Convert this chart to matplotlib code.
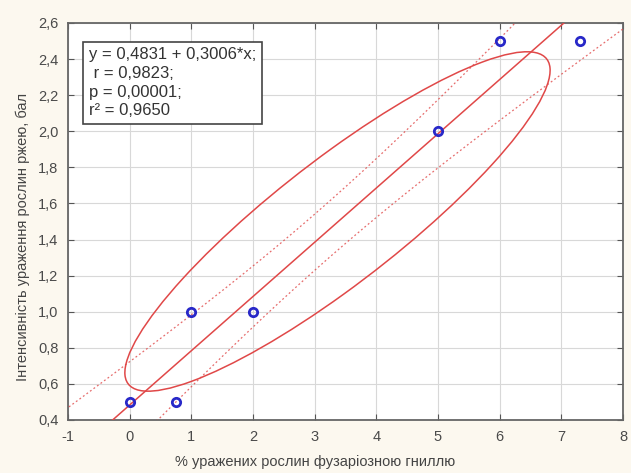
import numpy as np
import matplotlib
matplotlib.use("Agg")
import matplotlib.pyplot as plt
from matplotlib.patches import Ellipse

plt.rcParams['font.family'] = ['Liberation Sans', 'DejaVu Sans']

# дані
x_vals = [0.0, 0.75, 1.0, 2.0, 5.0, 6.0, 7.3]
y_vals = [0.5, 0.5, 1.0, 1.0, 2.0, 2.5, 2.5]

intercept = 0.4831
slope = 0.3006
r_value = 0.9823
t_crit = 2.26  # коеф. смуги довіри (підібрано під рисунок)

# еліпс
ell_center = (3.37, 1.50)
ell_semi_major = 3.55
ell_semi_minor = 0.415
ell_angle = 13.85

x_ticks = [-1, 0, 1, 2, 3, 4, 5, 6, 7, 8]
y_ticks = [0.4, 0.6, 0.8, 1.0, 1.2, 1.4, 1.6, 1.8, 2.0, 2.2, 2.4, 2.6]

stats_text = "y = 0,4831 + 0,3006*x;\n r = 0,9823;\np = 0,00001;\nr\u00b2 = 0,9650"
xlabel = "% уражених рослин фузаріозною гниллю"
ylabel = "Інтенсивність ураження рослин ржею, бал"

fig = plt.figure(figsize=(6.31, 4.73), dpi=100, facecolor='#fcf8ef')
ax = fig.add_axes([0.1078, 0.1121, 0.8795, 0.8393])
ax.set_facecolor('white')

xa = np.array(x_vals)
ya = np.array(y_vals)
n = len(xa)
mx = xa.mean()
sxx = ((xa - mx) ** 2).sum()
syy = ((ya - ya.mean()) ** 2).sum()
s = np.sqrt(syy * (1 - r_value ** 2) / (n - 2))

xx = np.linspace(-1.5, 8.5, 300)
yy = intercept + slope * xx
half = t_crit * s * np.sqrt(1.0 / n + (xx - mx) ** 2 / sxx)

red = '#e04848'
ax.plot(xx, yy, color=red, lw=1.1, zorder=3)
ax.plot(xx, yy + half, color=red, lw=0.9, ls=(0, (1.5, 2)), alpha=0.8, zorder=3)
ax.plot(xx, yy - half, color=red, lw=0.9, ls=(0, (1.5, 2)), alpha=0.8, zorder=3)

ell = Ellipse(ell_center, 2 * ell_semi_major, 2 * ell_semi_minor, angle=ell_angle,
              fill=False, edgecolor=red, lw=1.1, zorder=3)
ax.add_patch(ell)

ax.plot(x_vals, y_vals, ls='none', marker='o', ms=6, mew=2,
        mfc='none', mec='#2828c8', zorder=5)

ax.set_xlim(-1, 8)
ax.set_ylim(0.4, 2.6)
ax.set_xticks(x_ticks)
ax.set_yticks(y_ticks)
ax.set_xticklabels([str(v) for v in x_ticks])
ax.set_yticklabels([f"{v:.1f}".replace('.', ',') for v in y_ticks])
ax.tick_params(direction='in', top=True, right=True, length=4, width=0.8,
               colors='#555555', labelcolor='#4a4a4a', labelsize=10.5, pad=7)
ax.grid(True, color='#d8d8d8', lw=0.8)
ax.set_axisbelow(True)
for sp in ax.spines.values():
    sp.set_color('#666666')
    sp.set_linewidth(1.3)

fig.text(0.5, 0.024, xlabel, fontsize=10.5, color='#444444', ha='center', va='center')
fig.text(0.036, 0.5, ylabel, fontsize=10.5, color='#444444', ha='center', va='center',
         rotation=90)

ax.text(-0.66, 2.465, stats_text, fontsize=12, color='#333333', va='top', ha='left',
        linespacing=1.3, zorder=6,
        bbox=dict(boxstyle='square,pad=0.35', fc='white', ec='#444444', lw=1.2))

fig.savefig('out.png', dpi=100, facecolor=fig.get_facecolor())
